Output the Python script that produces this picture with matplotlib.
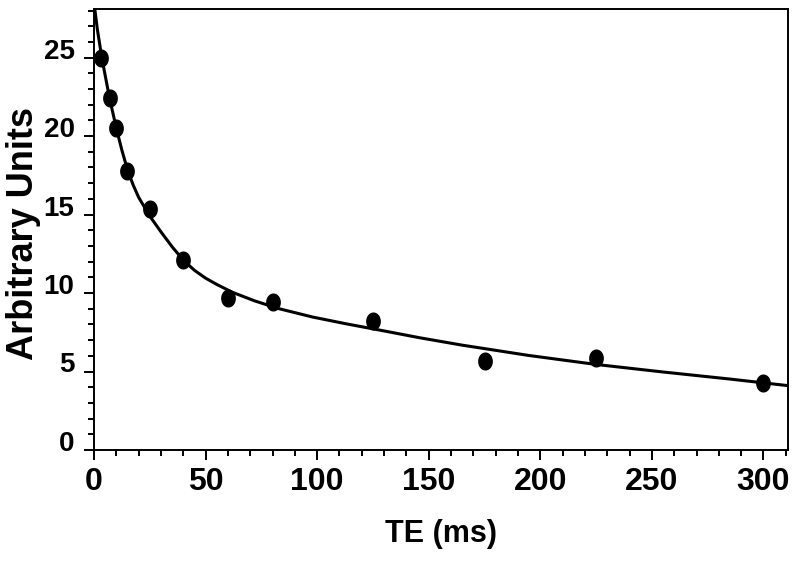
import numpy as np
import matplotlib
matplotlib.use("Agg")
import matplotlib.pyplot as plt
from matplotlib.path import Path
from matplotlib.ticker import MultipleLocator
from matplotlib.transforms import ScaledTranslation

# ---- measured points ----
te = [3, 7, 10, 15, 25, 40, 60, 80, 125, 175, 225, 300]
signal = [25.0, 22.4, 20.5, 17.8, 15.35, 12.1, 9.7, 9.4, 8.2, 5.67, 5.86, 4.27]

# ---- fitted curve ----
fit_te = [0, 1.5, 3.5, 5.5, 7, 10, 12.5, 15, 17.5, 20, 25, 30, 35, 40, 45, 50,
          55, 62, 72, 83, 98, 113, 128, 146, 165, 195, 225, 255, 285, 311]
fit_signal = [28.5, 26.8, 25.0, 23.5, 22.4, 20.5, 19.1, 17.85, 16.9, 16.1, 14.9,
              13.9, 12.95, 12.1, 11.45, 10.95, 10.55, 10.05, 9.5, 9.0, 8.47, 8.04,
              7.64, 7.15, 6.68, 6.02, 5.45, 4.97, 4.52, 4.1]

plt.rcParams['font.family'] = ['Liberation Sans', 'DejaVu Sans']
plt.rcParams['font.weight'] = 'bold'

fig = plt.figure(figsize=(8, 5.76), dpi=100)
ax = fig.add_axes([0.1175, 0.21875, 0.8675, 0.7657])

ax.plot(fit_te, fit_signal, color='black', lw=2.2, zorder=2)

# slightly tall ellipse marker
th = np.linspace(0, 2 * np.pi, 60)
ellipse = Path(np.column_stack([0.8 * np.cos(th), np.sin(th)]))
ax.plot(te, signal, linestyle='none', marker=ellipse, markersize=12,
        color='black', zorder=3)

ax.set_xlim(0, 311)
ax.set_ylim(0, 28.1)
ax.xaxis.set_major_locator(MultipleLocator(50))
ax.xaxis.set_minor_locator(MultipleLocator(10))
ax.yaxis.set_major_locator(MultipleLocator(5))
ax.yaxis.set_minor_locator(MultipleLocator(1))

ax.tick_params(which='major', length=7, width=1.4)
ax.tick_params(which='minor', length=4.5, width=1.4)
ax.tick_params(axis='x', labelsize=23, pad=5)
ax.tick_params(axis='y', labelsize=20, pad=7)
for s in ax.spines.values():
    s.set_linewidth(1.4)

# y labels in the original sit a little above their ticks
shift = ScaledTranslation(0, 6.5 / 72, fig.dpi_scale_trans)
for lab in ax.get_yticklabels():
    lab.set_transform(lab.get_transform() + shift)

ax.set_xlabel('TE (ms)', fontsize=22, fontweight='bold', labelpad=16)
ax.set_ylabel('Arbitrary Units', fontsize=26, fontweight='bold')
ax.yaxis.set_label_coords(-0.077, 0.49)

fig.savefig('out.png', dpi=100)
